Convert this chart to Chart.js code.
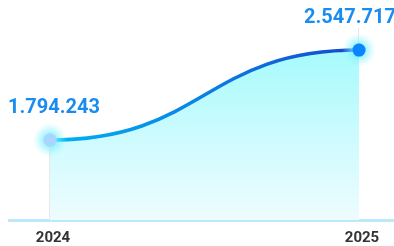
<!DOCTYPE html>
<html>
<head>
<meta charset="utf-8">
<script src="https://cdn.jsdelivr.net/npm/chart.js@4.4.1/dist/chart.umd.min.js"></script>
<style>
  body { margin: 0; background: #fff; }
  #wrap { width: 394px; height: 246px; }
</style>
</head>
<body>
<div id="wrap"><canvas id="grafico" width="394" height="246"></canvas></div>
<script>
// datos
const years = [2024, 2025];
const values = [1794243, 2547717];
const pointColors = ['#a9d6ff', '#0a84ff'];

function formatNum(v) {
    return String(v).replace(/\B(?=(\d{3})+(?!\d))/g, '.');
}

// curva suave con tangentes horizontales en cada punto
const curvePlugin = {
    id: 'curve',
    beforeDatasetsDraw(chart) {
        const meta = chart.getDatasetMeta(0);
        meta.dataset.updateControlPoints(chart.chartArea);
        const pts = meta.data;
        for (let i = 0; i < pts.length - 1; i++) {
            const a = pts[i], b = pts[i + 1];
            const dx = (b.x - a.x) * 0.5;
            a.cp2x = a.x + dx; a.cp2y = a.y;
            b.cp1x = b.x - dx; b.cp1y = b.y;
        }
        // lineas verticales desde cada punto
        const ctx = chart.ctx;
        ctx.save();
        ctx.strokeStyle = '#e8e8e8';
        ctx.lineWidth = 1;
        pts.forEach((p, i) => {
            const top = i === pts.length - 1 ? 28 : p.y;
            const x = Math.round(p.x) - 0.5;
            ctx.beginPath();
            ctx.moveTo(x, top);
            ctx.lineTo(x, chart.chartArea.bottom);
            ctx.stroke();
        });
        ctx.restore();
    }
};

// brillo de los puntos + etiquetas
const glowPlugin = {
    id: 'glow',
    afterDatasetsDraw(chart) {
        const ctx = chart.ctx;
        const meta = chart.getDatasetMeta(0);
        meta.data.forEach((p, i) => {
            const g = ctx.createRadialGradient(p.x, p.y, 0, p.x, p.y, 17);
            g.addColorStop(0, 'rgba(120, 245, 255, 0.95)');
            g.addColorStop(0.45, 'rgba(120, 240, 255, 0.6)');
            g.addColorStop(1, 'rgba(160, 245, 255, 0)');
            ctx.save();
            ctx.fillStyle = g;
            ctx.beginPath();
            ctx.arc(p.x, p.y, 17, 0, Math.PI * 2);
            ctx.fill();
            ctx.restore();
            p.draw(ctx, chart.chartArea);

            // etiqueta
            const txt = formatNum(values[i]);
            ctx.save();
            ctx.font = 'bold 20px Roboto';
            ctx.fillStyle = '#1a8cf0';
            ctx.textBaseline = 'alphabetic';
            const w = ctx.measureText(txt).width;
            let cx = p.x + 4;
            if (cx + w / 2 > chart.width + 2) cx = chart.width + 2 - w / 2;
            ctx.textAlign = 'center';
            ctx.fillText(txt, cx, p.y - 27);
            ctx.restore();
        });
    }
};

const ctxGrafico = document.getElementById('grafico');

let grafico = new Chart(ctxGrafico, {
    type: 'line',
    data: {
        datasets: [{
            data: years.map((y, i) => ({ x: y, y: values[i] })),
            borderWidth: 3.5,
            tension: 0.4,
            borderColor: function(context) {
                const area = context.chart.chartArea;
                if (!area) return '#1a8cf0';
                const g = context.chart.ctx.createLinearGradient(50, 0, 359, 0);
                g.addColorStop(0, '#00b4f4');
                g.addColorStop(0.5, '#0a80e4');
                g.addColorStop(1, '#1248cc');
                return g;
            },
            fill: 'start',
            backgroundColor: function(context) {
                const area = context.chart.chartArea;
                if (!area) return 'rgba(160, 250, 250, 0.6)';
                const g = context.chart.ctx.createLinearGradient(0, area.top + 40, 0, area.bottom);
                g.addColorStop(0, 'rgba(165, 250, 252, 1)');
                g.addColorStop(0.5, 'rgba(204, 251, 254, 1)');
                g.addColorStop(1, 'rgba(238, 252, 255, 1)');
                return g;
            },
            pointRadius: 6.5,
            pointBorderWidth: 0,
            pointBackgroundColor: pointColors,
            pointHoverRadius: 6.5
        }]
    },
    options: {
        responsive: false,
        animation: false,
        layout: { autoPadding: false, padding: { top: 8, left: 9, right: 0, bottom: 0 } },
        plugins: {
            legend: { display: false },
            tooltip: { enabled: false }
        },
        scales: {
            x: {
                type: 'linear',
                min: 2023.8673,
                max: 2025.1133,
                afterBuildTicks: function(axis) {
                    axis.ticks = years.map(y => ({ value: y }));
                },
                afterFit: function(axis) {
                    axis.paddingLeft = 0;
                    axis.paddingRight = 0;
                    axis.height = 26;
                },
                grid: { display: false, drawTicks: false },
                border: { color: '#bde8fb', width: 3 },
                ticks: {
                    padding: 9,
                    labelOffset: 3,
                    color: '#333333',
                    font: { family: 'Roboto', size: 15, weight: 'bold' },
                    callback: function(value) { return String(value); }
                }
            },
            y: {
                display: false,
                min: 1125000,
                max: 2900000
            }
        }
    },
    plugins: [curvePlugin, glowPlugin]
});
</script>
</body>
</html>
